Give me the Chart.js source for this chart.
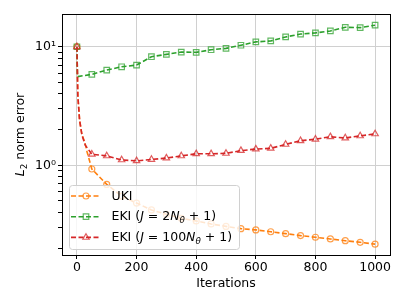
<!DOCTYPE html>
<html>
<head>
<meta charset="utf-8">
<script src="https://cdn.jsdelivr.net/npm/chart.js@4.4.0/dist/chart.umd.min.js"></script>
<style>
  html, body { margin: 0; padding: 0; background: #fff; }
  #wrap { width: 407px; height: 305px; position: relative; }
</style>
</head>
<body>
<div id="wrap"><canvas id="chart"></canvas></div>
<script>
// data (markers every 50 iterations, a few extra points for the initial drop)
const ukiIters = [0, 3, 9, 17, 26, 34, 50, 100, 150, 200, 250, 300, 350, 400, 450, 500, 550, 600, 650, 700, 750, 800, 850, 900, 950, 1000];
const ukiError = [10, 3.9, 2.4, 1.8, 1.58, 1.3, 0.93, 0.69, 0.55, 0.48, 0.42, 0.386, 0.357, 0.339, 0.32, 0.305, 0.292, 0.285, 0.275, 0.265, 0.255, 0.247, 0.239, 0.231, 0.224, 0.216];

const ekiSmallIters = [0, 2, 50, 100, 150, 200, 250, 300, 350, 400, 450, 500, 550, 600, 650, 700, 750, 800, 850, 900, 950, 1000];
const ekiSmallError = [10, 5.6, 5.85, 6.36, 6.78, 7.01, 8.24, 8.63, 9.02, 8.97, 9.44, 9.69, 10.3, 11.0, 11.2, 12.1, 12.8, 13.1, 13.6, 14.6, 14.5, 15.2];

const ekiLargeIters = [0, 3, 9, 17, 28, 50, 100, 150, 200, 250, 300, 350, 400, 450, 500, 550, 600, 650, 700, 750, 800, 850, 900, 950, 1000];
const ekiLargeError = [10, 3.9, 2.4, 1.8, 1.48, 1.24, 1.2, 1.11, 1.09, 1.12, 1.15, 1.2, 1.25, 1.25, 1.26, 1.33, 1.37, 1.39, 1.5, 1.61, 1.66, 1.74, 1.7, 1.77, 1.84];

const markEvery = 50;
const yTickValues = [0.2, 0.3, 0.4, 0.5, 0.6, 0.7, 0.8, 0.9, 1, 2, 3, 4, 5, 6, 7, 8, 9, 10];
const yTickLabels = { 1: '10\u2070', 10: '10\u00b9' };

const FONT = "'DejaVu Sans'";
Chart.defaults.font.family = FONT;
Chart.defaults.color = '#000';

const series = [
  { name: 'UKI', iters: ukiIters, vals: ukiError, color: '#ff7f0e', marker: 'circle', radius: 3 },
  { name: 'EKI2', iters: ekiSmallIters, vals: ekiSmallError, color: '#2ca02c', marker: 'rect', radius: 3.9 },
  { name: 'EKI100', iters: ekiLargeIters, vals: ekiLargeError, color: '#d62728', marker: 'triangle', radius: 3.7 }
];

function fade(hex, a) {
  const n = parseInt(hex.slice(1), 16);
  return `rgba(${n >> 16},${(n >> 8) & 255},${n & 255},${a})`;
}

const datasets = series.map((s, i) => ({
  label: s.name,
  data: s.iters.map((x, k) => ({ x: x, y: s.vals[k] })),
  borderColor: s.color,
  borderWidth: 1.6,
  borderDash: [5, 2.5],
  pointStyle: s.marker,
  pointRadius: ctx => (ctx.raw && ctx.raw.x % markEvery === 0 ? s.radius : 0),
  pointBackgroundColor: 'rgba(0,0,0,0)',
  pointBorderColor: fade(s.color, 0.75),
  pointBorderWidth: 1.2,
  tension: 0,
  order: 2 - i
}));

// legend rows: text pieces [text, italic, subscript]
const legendRows = [
  [['UKI', false, false]],
  [['EKI (', false, false], ['J', true, false], [' = 2', false, false], ['N', true, false], ['\u03b8', true, true], [' + 1)', false, false]],
  [['EKI (', false, false], ['J', true, false], [' = 100', false, false], ['N', true, false], ['\u03b8', true, true], [' + 1)', false, false]]
];

function drawPieces(ctx, pieces, x, y, size) {
  for (const [t, it, sub] of pieces) {
    const sz = sub ? size * 0.7 : size;
    ctx.font = `${it ? 'italic ' : ''}${sz}px ${FONT}`;
    ctx.fillText(t, x, sub ? y + size * 0.28 : y);
    x += ctx.measureText(t).width;
  }
  return x;
}

const decorations = {
  id: 'decorations',
  afterDraw(chart) {
    const ctx = chart.ctx;
    const a = chart.chartArea;
    ctx.save();
    // frame
    ctx.strokeStyle = '#000';
    ctx.lineWidth = 1;
    ctx.strokeRect(a.left + 0.5, a.top + 0.5, a.right - a.left, a.bottom - a.top);

    // y title with italic L and subscript 2
    ctx.translate(21, (a.top + a.bottom) / 2);
    ctx.rotate(-Math.PI / 2);
    ctx.fillStyle = '#000';
    ctx.textBaseline = 'middle';
    const yPieces = [['L', true, false], ['2', false, true], [' norm error', false, false]];
    let w = 0;
    for (const [t, it, sub] of yPieces) {
      ctx.font = `${it ? 'italic ' : ''}${sub ? 12.5 * 0.7 : 12.5}px ${FONT}`;
      w += ctx.measureText(t).width;
    }
    drawPieces(ctx, yPieces, -w / 2, 0, 12.5);
    ctx.restore();

    // legend
    ctx.save();
    const lx = 69, ly = 185, lw = 170, lh = 64;
    ctx.beginPath();
    ctx.roundRect(lx + 0.5, ly + 0.5, lw, lh, 3);
    ctx.fillStyle = 'rgba(255,255,255,0.8)';
    ctx.fill();
    ctx.strokeStyle = '#d0d0d0';
    ctx.lineWidth = 1;
    ctx.stroke();
    series.forEach((s, i) => {
      const y = ly + 11 + i * 20.7;
      ctx.strokeStyle = s.color;
      ctx.lineWidth = 1.6;
      ctx.setLineDash([5, 2.5]);
      ctx.beginPath();
      ctx.moveTo(71, y);
      ctx.lineTo(101, y);
      ctx.stroke();
      ctx.setLineDash([]);
      ctx.strokeStyle = fade(s.color, 0.75);
      ctx.fillStyle = 'rgba(0,0,0,0)';
      ctx.lineWidth = 1.2;
      Chart.helpers.drawPoint(ctx, { pointStyle: s.marker, radius: s.radius, borderWidth: 1.2, rotation: 0 }, 86, y);
      ctx.fillStyle = '#000';
      ctx.textBaseline = 'middle';
      drawPieces(ctx, legendRows[i], 111.5, y + 0.5, 12.5);
    });
    ctx.restore();
  }
};

new Chart(document.getElementById('chart'), {
  type: 'line',
  data: { datasets: datasets },
  plugins: [decorations],
  options: {
    responsive: true,
    maintainAspectRatio: false,
    animation: false,
    devicePixelRatio: 1,
    layout: { padding: { top: 14, right: 17, left: 0, bottom: 0 } },
    plugins: { legend: { display: false }, tooltip: { enabled: false } },
    scales: {
      x: {
        type: 'linear',
        min: -50,
        max: 1050,
        afterFit: scale => { scale.height = 50; },
        ticks: {
          stepSize: 200,
          includeBounds: false,
          maxRotation: 0,
          padding: 1,
          font: { size: 12.5 },
          color: '#000',
          callback: v => String(v)
        },
        grid: { color: '#d0d0d0', lineWidth: 1, tickColor: '#000', tickLength: 4 },
        border: { display: false },
        title: { display: true, text: 'Iterations', font: { size: 12.5 }, color: '#000', padding: { top: 0, bottom: 14 } }
      },
      y: {
        type: 'logarithmic',
        min: 0.175,
        max: 18.9,
        afterFit: scale => { scale.width = 62; },
        afterBuildTicks: scale => { scale.ticks = yTickValues.map(v => ({ value: v })); },
        ticks: {
          autoSkip: false,
          padding: 2,
          font: { size: 12.5 },
          color: '#000',
          callback: v => yTickLabels[v] || ''
        },
        grid: {
          color: c => (c.tick && yTickLabels[c.tick.value] ? '#d0d0d0' : 'rgba(0,0,0,0)'),
          lineWidth: 1,
          tickColor: '#000',
          tickLength: 4
        },
        border: { display: false }
      }
    }
  }
});
</script>
</body>
</html>
